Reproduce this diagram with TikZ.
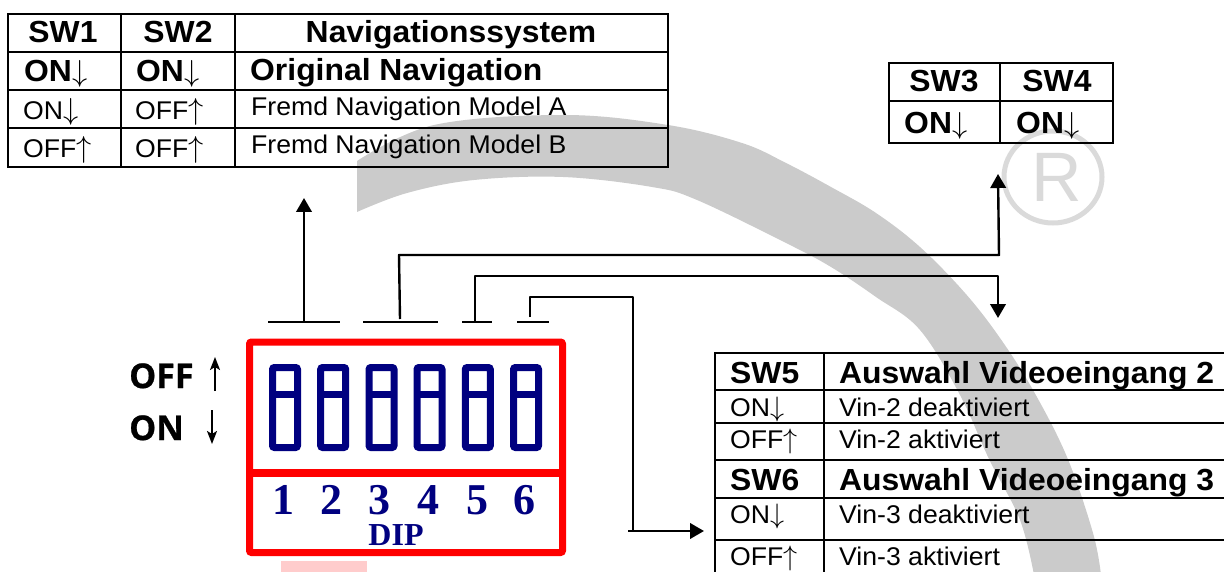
\documentclass[tikz,border=0pt]{standalone}
\usepackage{fontspec}
\usepackage{graphicx}
\usetikzlibrary{arrows.meta}
\setmainfont{Liberation Sans}
\newfontfamily\serifb{Liberation Serif}[BoldFont={Liberation Serif Bold}]
\newfontfamily\legendface{Open Sans}[BoldFeatures={FakeBold=0.7}]
\newfontfamily\bigface{Liberation Sans}[FakeStretch=1.045,BoldFont={Liberation Sans Bold}]
\newfontfamily\smallface{Liberation Sans}[FakeStretch=1.04]
\newcommand{\darr}[1][27pt]{\resizebox*{!}{#1}{\normalsize$\downarrow$}}
\newcommand{\uarr}[1][27pt]{\resizebox*{!}{#1}{\normalsize$\uparrow$}}
\definecolor{bandgray}{RGB}{203,203,203}
\definecolor{rmarkgray}{RGB}{218,218,218}
\definecolor{dipblue}{RGB}{0,0,128}
\definecolor{dipred}{RGB}{255,0,0}
\tikzset{
  big/.style={inner sep=0pt,anchor=base west,font=\fontsize{30.5}{30.5}\selectfont\bigface\bfseries},
  bigc/.style={inner sep=0pt,anchor=base,font=\fontsize{30.5}{30.5}\selectfont\bigface\bfseries},
  small/.style={inner sep=0pt,anchor=base west,font=\fontsize{25.6}{25.6}\selectfont\smallface},
  grid/.style={draw=black,line width=2pt,line cap=rect},
  bar/.style={draw=black,line width=2.4pt},
  wire/.style={draw=black,line width=2pt,line join=round},
  arrowwire/.style={draw=black,line width=2.4pt,line join=round,-{Triangle[width=15.5pt,length=14pt]}},
  dipnum/.style={inner sep=0pt,anchor=center,text=dipblue,font=\fontsize{44}{44}\selectfont\serifb\bfseries},
  swbox/.style={draw=dipblue,line width=7pt,rounded corners=2pt},
  legend/.style={inner sep=0pt,anchor=base west,font=\fontsize{34}{34}\selectfont\legendface\bfseries},
  legendarrow/.style={draw=black,line width=2pt,-{Stealth[width=10pt,length=13pt,inset=3pt]}}
}
\begin{document}
\begin{tikzpicture}[x=1pt,y=-1pt]
\useasboundingbox (0,0) rectangle (1224,572);
\begin{scope}
\clip (0,0) rectangle (1224,572);
% watermark band
\fill[bandgray] plot[smooth,tension=.6] coordinates {(357,161) (434,125) (564,115) (668,125) (742,143) (786,163) (831,187) (876,213) (920,247) (965,293) (1000,338) (1033,390) (1067,457) (1093,533) (1101,575)}
  -- plot[smooth,tension=.6] coordinates {(1034,575) (1020,520) (989,459) (960,395) (920,330) (876,297) (831,267) (786,243) (697,200) (652,187) (563,177) (474,180) (407,193) (357,212)} -- cycle;
% registered mark
\draw[draw=rmarkgray,line width=5pt] (1053,177) circle[x radius=49pt,y radius=46pt];
\node[inner sep=0pt,anchor=base,text=rmarkgray,font=\fontsize{70}{70}\selectfont] (regR) at (1057,202) {R};
% pink strip
\fill[red!20] (281,561) rectangle (367,572);
\end{scope}
% top table
\draw[grid] (8,14) rectangle (668,167);
\draw[grid] (8,52) -- (668,52) (8,90) -- (668,90) (8,128) -- (668,128);
\draw[grid] (121,14) -- (121,167) (235,14) -- (235,167);
\node[bigc] (a1) at (63,43) {SW1};
\node[bigc] (a2) at (178,43) {SW2};
\node[bigc] (a3) at (451,43) {Navigationssystem};
\node[big] (b1) at (24,82) {ON\darr};
\node[big] (b2) at (136,82) {ON\darr};
\node[big] (b3) at (250,80.5) {Original Navigation};
\node[small] (c1) at (23,120) {ON\darr};
\node[small] (c2) at (135,120) {OFF\uarr};
\node[small] (c3) at (251,115.5) {Fremd Navigation Model A};
\node[small] (d1) at (23,158) {OFF\uarr};
\node[small] (d2) at (135,158) {OFF\uarr};
\node[small] (d3) at (251,154) {Fremd Navigation Model B};
% SW3/4 table
\draw[grid] (889,63) rectangle (1113,143);
\draw[grid] (889,101) -- (1113,101) (1000,63) -- (1000,143);
\node[bigc] (e1) at (944,92) {SW3};
\node[bigc] (e2) at (1057,92) {SW4};
\node[big] (f1) at (904,134) {ON\darr};
\node[big] (f2) at (1016,134) {ON\darr};
% lower table
\draw[grid] (1226,353) -- (715,353) -- (715,574);
\draw[grid] (824,353) -- (824,574);
\foreach \yy in {390,423,460,498,540} \draw[grid] (715,\yy) -- (1226,\yy);
\node[big] (g1) at (730,383) {SW5};
\node[big] (g2) at (839,383) {Auswahl Videoeingang 2};
\node[small] (h1) at (730,416) {ON\darr[25pt]};
\node[small] (h2) at (839,416) {Vin-2 deaktiviert};
\node[small] (i1) at (730,448) {OFF\uarr[25pt]};
\node[small] (i2) at (839,448) {Vin-2 aktiviert};
\node[big] (j1) at (730,490) {SW6};
\node[big] (j2) at (839,490) {Auswahl Videoeingang 3};
\node[small] (k1) at (730,523) {ON\darr[25pt]};
\node[small] (k2) at (839,523) {Vin-3 deaktiviert};
\node[small] (l1) at (730,565) {OFF\uarr[25pt]};
\node[small] (l2) at (839,565) {Vin-3 aktiviert};
% DIP frame
\draw[dipred,line width=7pt,rounded corners=2pt] (249.5,342) rectangle (562.5,552.5);
\draw[dipred,line width=8pt] (249.5,473) -- (562.5,473);
\foreach \xx in {272.5,320.7,369,417,465.3,513.5} {
  \draw[swbox] (\xx,367.5) rectangle ++(25,80);
  \draw[draw=dipblue,line width=7pt] (\xx,394) -- ++(25,0);
}
\node[dipnum] (n1) at (283,500) {1};
\node[dipnum] (n2) at (331,500) {2};
\node[dipnum] (n3) at (379,500) {3};
\node[dipnum] (n4) at (428,500) {4};
\node[dipnum] (n5) at (477,500) {5};
\node[dipnum] (n6) at (524,500) {6};
\node[inner sep=0pt,anchor=base,text=dipblue,font=\fontsize{32}{32}\selectfont\serifb\bfseries] (dip) at (396,545) {DIP};
% legend
\node[legend] (off) at (129,388) {OFF};
\node[legend] (on) at (129,440) {ON};
\coordinate (offa) at (215,391); \coordinate (offb) at (215,357);
\coordinate (ona) at (212,410); \coordinate (onb) at (212,444);
\draw[legendarrow] (offa) -- (offb);
\draw[legendarrow] (ona) -- (onb);
% T bars and connectors
\coordinate (t1a) at (268,322); \coordinate (t1b) at (340,322);
\coordinate (t2a) at (363,322); \coordinate (t2b) at (438,322);
\coordinate (t3a) at (462,322); \coordinate (t3b) at (492,322);
\coordinate (t4a) at (517,322); \coordinate (t4b) at (549,322);
\draw[bar] (t1a) -- (t1b);
\draw[bar] (t2a) -- (t2b);
\draw[bar] (t3a) -- (t3b);
\draw[bar] (t4a) -- (t4b);
\coordinate (s1) at (304,322); \coordinate (e1t) at (304,198);
\draw[arrowwire] (s1) -- (e1t);
\coordinate (s2) at (400,319); \coordinate (k2a) at (399,255); \coordinate (k2b) at (999,255); \coordinate (e2t) at (998,174);
\draw[arrowwire] (s2) -- (k2a) -- (k2b) -- (e2t);
\coordinate (s3) at (475,322); \coordinate (k3a) at (475,276); \coordinate (k3b) at (998,276); \coordinate (e3t) at (998,318);
\draw[arrowwire] (s3) -- (k3a) -- (k3b) -- (e3t);
\coordinate (s4) at (530,317); \coordinate (k4a) at (530,297); \coordinate (k4b) at (633,297); \coordinate (k4c) at (633,531); \coordinate (e4t) at (704,531);
\draw[wire] (s4) -- (k4a) -- (k4b) -- (k4c);
\coordinate (k4d) at (628,531);
\draw[arrowwire] (k4d) -- (e4t);
\end{tikzpicture}
\end{document}
